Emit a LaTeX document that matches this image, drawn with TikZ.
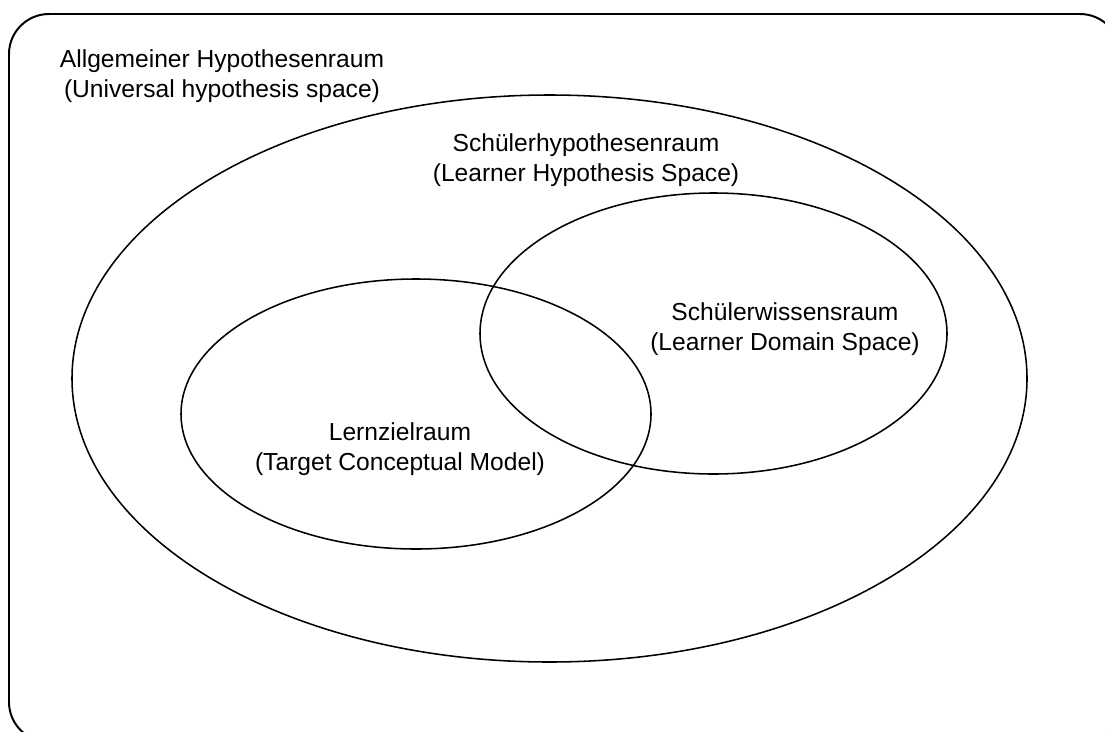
\documentclass[tikz,border=0pt]{standalone}
\usepackage{fontspec}
\setmainfont{Liberation Sans}
\usepackage{tikz}
\tikzset{space/.style={draw,line width=1.1pt},
  spacelabel/.style={align=center,inner sep=0pt,font=\fontsize{17.5}{21}\selectfont}}

\begin{document}
\begin{tikzpicture}[x=0.025cm,y=-0.025cm]
          \useasboundingbox (0,0) rectangle (1105,731);
          \clip (0,0) rectangle (1105,731);
          \draw [line width=1.4pt,rounded corners=1cm] (9,14) rectangle (1120,742);
          \draw [space] (549.5,378.5) ellipse [x radius=477.5, y radius=283.5];
          \draw [space] (416,414) ellipse [x radius=235, y radius=135];
          \draw [space] (713.5,333.5) ellipse [x radius=233.5, y radius=140.5];
          \node [spacelabel] (universal) at (222,76) {Allgemeiner Hypothesenraum\\(Universal hypothesis space)};
          \node [spacelabel] (learner) at (586,160) {Schülerhypothesenraum\\(Learner Hypothesis Space)};
          \node [spacelabel] (domain) at (785,329) {Schülerwissensraum\\(Learner Domain Space)};
          \node [spacelabel] (target) at (400,449) {Lernzielraum\\(Target Conceptual Model)};
        \end{tikzpicture}
\end{document}
